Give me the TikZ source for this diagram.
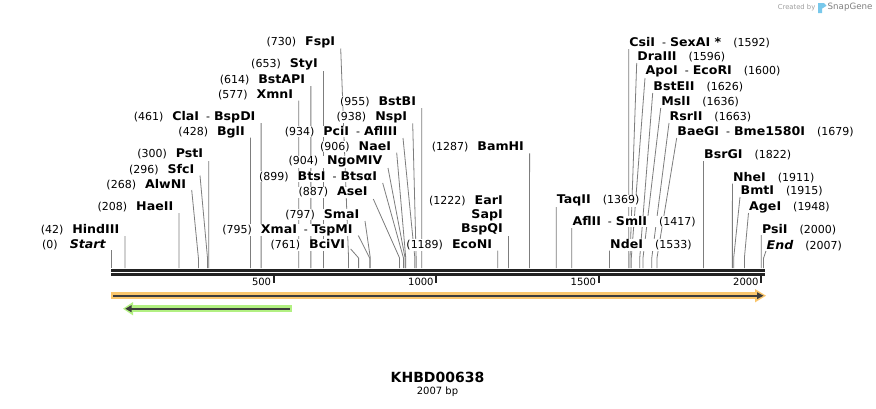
\documentclass[tikz,border=0pt]{standalone}
\usepackage{fontspec}
\setmainfont{DejaVu Sans}
\newfontfamily\nmfont{DejaVu Sans}[FakeStretch=1.05]
\usetikzlibrary{arrows.meta,calc}
\pgfdeclarelayer{bg}
\pgfdeclarelayer{paper}
\pgfsetlayers{paper,bg,main}
\definecolor{linegray}{RGB}{125,125,125}
\definecolor{axiscol}{RGB}{34,34,34}
\definecolor{orangeL}{RGB}{250,198,108}
\definecolor{greenL}{RGB}{178,240,130}
\definecolor{featdark}{RGB}{60,60,60}
\definecolor{iconblue}{RGB}{120,200,235}
\newcommand\nm[1]{{\nmfont\fontsize{12}{14}\selectfont\bfseries #1}}
\newcommand\nmi[1]{{\nmfont\fontsize{12}{14}\selectfont\bfseries\itshape #1}}
\newcommand\dsh{\hspace{7pt}-\hspace{4pt}}
% left label: id, y, line start x, line start y, bp, text
\newcommand\LL[6]{%
  \pgfmathsetmacro\cx{111.3+0.325*#5}%
  \node[lab,anchor=east] (#1) at (#3-5,#2) {#6};%
  \coordinate (#1c) at (\cx,268);%
  \begin{pgfonlayer}{bg}\draw[cutline] ([shift={(5,#4-#2)}]#1.east) -- (\cx,258) -- (#1c);\end{pgfonlayer}%
}
% right label: id, y, line start x, line start y, bp, text
\newcommand\RL[6]{%
  \pgfmathsetmacro\cx{111.3+0.325*#5}%
  \node[lab,anchor=west] (#1) at (#3,#2) {#6};%
  \coordinate (#1c) at (\cx,268);%
  \begin{pgfonlayer}{bg}\draw[cutline] ([shift={(0,#4-#2)}]#1.west) -- (\cx,258) -- (#1c);\end{pgfonlayer}%
}
\begin{document}
\begin{tikzpicture}[x=1pt,y=-1pt,
  lab/.style={font=\fontsize{11}{13}\selectfont, fill=white, inner sep=0.5pt},
  cutline/.style={draw=linegray, line width=0.8pt},
  axisline/.style={draw=axiscol},
  tickline/.style={draw=axiscol, line width=2pt},
  ticklab/.style={font=\fontsize{10}{12}\selectfont, anchor=east, inner sep=0pt}]
\useasboundingbox (0,0) rectangle (876,408);
\begin{pgfonlayer}{paper}
\fill[white] (0,0) rectangle (876,408);
\end{pgfonlayer}

% logo
\node[text=black!38, font=\fontsize{6.8}{8}\selectfont, anchor=east, inner sep=0pt] (cb) at (815.5,7.5) {Created by};
\fill[iconblue] (818,3) -- (824,3) -- (826.5,5.8) -- (822,8.6) -- (822,13) -- (818,13) -- cycle;
\node[text=black!50, font=\fontsize{8.7}{10}\selectfont, anchor=west, inner sep=0pt] (sg) at (827.5,7.5) {SnapGene};

% axis
\coordinate (a0) at (111,270.3);
\coordinate (a1) at (765,270.3);
\coordinate (b0) at (111,274.5);
\coordinate (b1) at (765,274.5);
\draw[axisline, line width=2.7pt] (a0) -- (a1);
\draw[axisline, line width=2.3pt] (b0) -- (b1);
\foreach \v in {500,1000,1500,2000}{
  \pgfmathsetmacro\tx{111.3+0.325*\v}
  \coordinate (t\v a) at (\tx,275);
  \coordinate (t\v b) at (\tx,282.5);
  \draw[tickline] (t\v a) -- (t\v b);
  \node[ticklab] (tl\v) at (\tx-2.5,281.5) {\v};
}

% features
\coordinate (o0) at (111,295.7);
\coordinate (o1) at (758,295.7);
\draw[orangeL, line width=6.5pt] (o0) -- (o1);
\fill[orangeL] (755,289) -- (766,295.7) -- (755,302.4) -- cycle;
\coordinate (o2) at (113,295.7);
\coordinate (o3) at (759,295.7);
\draw[featdark, line width=2pt] (o2) -- (o3);
\fill[featdark] (757,292.2) -- (763.4,295.7) -- (757,299.2) -- cycle;

\coordinate (g0) at (291.7,308.7);
\coordinate (g1) at (130,308.7);
\draw[greenL, line width=6.5pt] (g0) -- (g1);
\fill[greenL] (133,302) -- (123,308.7) -- (133,315.4) -- cycle;
\coordinate (g2) at (289.7,308.7);
\coordinate (g3) at (129,308.7);
\draw[featdark, line width=2pt] (g2) -- (g3);
\fill[featdark] (131.5,305.2) -- (125.3,308.7) -- (131.5,312.2) -- cycle;

% left-side labels
\LL{Start}{245}{111.3}{250}{0}{(0)\hspace{12pt}\nmi{Start}}
\LL{HindIII}{229.3}{124.95}{236}{42}{(42)\hspace{9pt}\nm{HindIII}}
\LL{HaeII}{207.3}{178.9}{213}{208}{(208)\hspace{9pt}\nm{HaeII}}
\LL{AlwNI}{185}{191.7}{190}{268}{(268)\hspace{9pt}\nm{AlwNI}}
\LL{SfcI}{170}{200}{175.5}{296}{(296)\hspace{9pt}\nm{SfcI}}
\LL{PstI}{154.3}{208.8}{161}{300}{(300)\hspace{9pt}\nm{PstI}}
\LL{BglI}{132.3}{250.4}{137.5}{428}{(428)\hspace{9pt}\nm{BglI}}
\LL{ClaI}{116.7}{261.1}{123}{461}{(461)\hspace{9pt}\nm{ClaI}\dsh\nm{BspDI}}
\LL{XmnI}{95}{298.8}{100.7}{577}{(577)\hspace{9pt}\nm{XmnI}}
\LL{BstAPI}{80}{310.85}{86}{614}{(614)\hspace{9pt}\nm{BstAPI}}
\LL{StyI}{64.3}{323.5}{71}{653}{(653)\hspace{9pt}\nm{StyI}}
\LL{FspI}{42.7}{340.7}{48.5}{730}{(730)\hspace{9pt}\nm{FspI}}
\LL{BstBI}{101.7}{421.7}{108}{955}{(955)\hspace{9pt}\nm{BstBI}}
\LL{NspI}{117.3}{412.7}{123.3}{938}{(938)\hspace{9pt}\nm{NspI}}
\LL{PciI}{131.7}{403}{138}{934}{(934)\hspace{9pt}\nm{PciI}\dsh\nm{AflIII}}
\LL{NaeI}{146.7}{396.7}{152.7}{906}{(906)\hspace{9pt}\nm{NaeI}}
\LL{NgoMIV}{161.7}{388}{168}{904}{(904)\hspace{9pt}\nm{NgoMIV}}
\LL{BtsI}{176.7}{382.7}{183}{899}{(899)\hspace{9pt}\nm{BtsI}\dsh\nm{BtsαI}}
\LL{AseI}{192.3}{373.3}{199}{887}{(887)\hspace{9pt}\nm{AseI}}
\LL{SmaI}{214.3}{365}{221}{797}{(797)\hspace{9pt}\nm{SmaI}}
\LL{XmaI}{230}{358.3}{235.5}{795}{(795)\hspace{9pt}\nm{XmaI}\dsh\nm{TspMI}}
\LL{BciVI}{245}{350.7}{249}{761}{(761)\hspace{9pt}\nm{BciVI}}
\LL{EcoNI}{245}{497.7}{250.7}{1189}{(1189)\hspace{9pt}\nm{EcoNI}}
\LL{BspQI}{229}{508.45}{236}{1222}{\nm{BspQI}}
\node[lab,anchor=east] (SapI) at (503.45,215) {\nm{SapI}};
\node[lab,anchor=east] (EarI) at (503.45,200.7) {(1222)\hspace{9pt}\nm{EarI}};
\LL{BamHI}{146.7}{529.6}{153.3}{1287}{(1287)\hspace{9pt}\nm{BamHI}}

% right-side labels
\RL{TaqII}{200.7}{556.2}{207}{1369}{\nm{TaqII}\hspace{12pt}(1369)}
\RL{AflII}{221.7}{571.8}{228}{1417}{\nm{AflII}\dsh\nm{SmlI}\hspace{12pt}(1417)}
\RL{NdeI}{245}{609.5}{250.5}{1533}{\nm{NdeI}\hspace{12pt}(1533)}
\RL{CsiI}{42.3}{628.7}{49}{1592}{\nm{CsiI}\dsh\nm{SexAI *}\hspace{12pt}(1592)}
\RL{DraIII}{56.7}{636.7}{63}{1596}{\nm{DraIII}\hspace{12pt}(1596)}
\RL{ApoI}{71.7}{645}{78}{1600}{\nm{ApoI}\dsh\nm{EcoRI}\hspace{12pt}(1600)}
\RL{BstEII}{86.7}{652.7}{93}{1626}{\nm{BstEII}\hspace{12pt}(1626)}
\RL{MslI}{101.7}{660.7}{108}{1636}{\nm{MslI}\hspace{12pt}(1636)}
\RL{RsrII}{117.3}{669}{123}{1663}{\nm{RsrII}\hspace{12pt}(1663)}
\RL{BaeGI}{131.7}{676.7}{138}{1679}{\nm{BaeGI}\dsh\nm{Bme1580I}\hspace{12pt}(1679)}
\RL{BsrGI}{155}{703.5}{161}{1822}{\nm{BsrGI}\hspace{12pt}(1822)}
\RL{NheI}{177.3}{732.4}{183.5}{1911}{\nm{NheI}\hspace{12pt}(1911)}
\RL{BmtI}{191}{740}{197}{1915}{\nm{BmtI}\hspace{12pt}(1915)}
\RL{AgeI}{207.3}{748.5}{213}{1948}{\nm{AgeI}\hspace{12pt}(1948)}
\RL{PsiI}{229.3}{761.3}{235}{2000}{\nm{PsiI}\hspace{12pt}(2000)}
\RL{End}{245.3}{766}{251}{2007}{\nmi{End}\hspace{12pt}(2007)}

% title
\node[font=\fontsize{14}{16}\selectfont\bfseries, inner sep=0pt] (title) at (437.5,377) {KHBD00638};
\node[font=\fontsize{10}{12}\selectfont, inner sep=0pt] (sub) at (437.5,392) {2007 bp};
\end{tikzpicture}
\end{document}
